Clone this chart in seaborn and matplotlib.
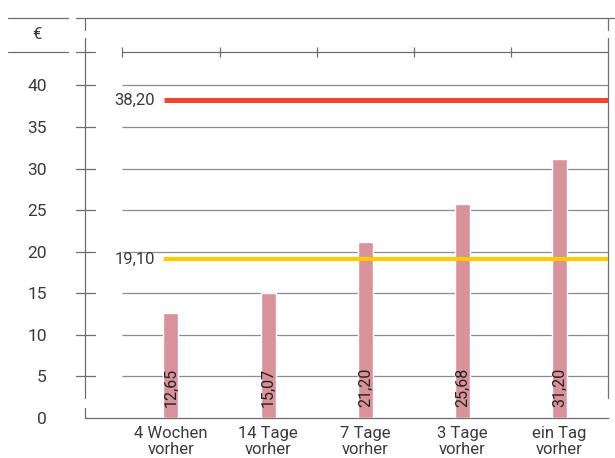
import matplotlib
matplotlib.use("Agg")
import matplotlib.pyplot as plt
import seaborn as sns
import numpy as np

# data
categories = ["4 Wochen\nvorher", "14 Tage\nvorher", "7 Tage\nvorher", "3 Tage\nvorher", "ein Tag\nvorher"]
prices = [12.65, 15.07, 21.20, 25.68, 31.20]
price_labels = ["12,65", "15,07", "21,20", "25,68", "31,20"]
ref_values = [38.20, 19.10]
ref_labels = ["38,20", "19,10"]
ref_colors = ["#f2462a", "#ffcc00"]
y_ticks = [0, 5, 10, 15, 20, 25, 30, 35, 40]

sns.set_style("white")
plt.rcParams["font.family"] = ["Roboto", "DejaVu Sans"]

TXT = "#3a3a3a"
GRID = "#8c8c8c"
AXC = "#6e6e6e"

fig = plt.figure(figsize=(6.15, 4.58), dpi=100)
ax = fig.add_axes([85 / 615, 40 / 458, 523 / 615, 400 / 458])

sns.barplot(x=categories, y=prices, color="#d9929a", width=0.155, saturation=1, ax=ax, zorder=3)

y_top = 44.0
y_head = 48.1
ax.set_ylim(0, y_head)
ax.set_xlim(-0.885, 4.494)


def px_x(px):
    # pixel column -> axes fraction
    return (px - 85) / 523


yt = ax.get_yaxis_transform()

# grid
ax.hlines(y_ticks[1:], -0.5, 4.5, color=GRID, lw=0.9, zorder=1)
ax.hlines(y_top, -0.5, 4.5, color=AXC, lw=0.9, zorder=1)
ax.vlines(np.arange(-0.5, 4.0, 1.0), y_top - 0.6, y_top + 0.6, color=AXC, lw=0.9)

# left / right verticals
for xf in (0, 1):
    ax.plot([xf, xf], [2.4, 45.7], transform=yt, color=AXC, lw=0.9, clip_on=False)
    ax.plot([xf, xf], [46.6, y_head], transform=yt, color=AXC, lw=0.9, clip_on=False)
ax.plot([0, 0], [0, 1.2], transform=yt, color=AXC, lw=0.9, clip_on=False)

# header lines
ax.plot([px_x(76), px_x(615)], [y_head, y_head], transform=yt, color=AXC, lw=0.9, clip_on=False)
for yy in (y_head, y_top):
    ax.plot([px_x(8), px_x(68)], [yy, yy], transform=yt, color=AXC, lw=0.9, clip_on=False)
for yy in y_ticks[1:] + [y_top]:
    ax.plot([px_x(76), px_x(95)], [yy, yy], transform=yt, color=AXC, lw=0.9, clip_on=False)
ax.text(px_x(37), 46.1, "€", transform=yt, ha="center", va="center", fontsize=12, color=TXT)

# reference lines
for v, lab, c in zip(ref_values, ref_labels, ref_colors):
    lw = 3.6 if v > 30 else 3.0
    ax.hlines(v, -0.072, 4.5, color=c, lw=lw, zorder=4)
    ax.text(-0.165, v, lab, ha="right", va="center", fontsize=12, color=TXT)

# value labels inside bars
for i, lab in enumerate(price_labels):
    ax.text(i, 1.3, lab, rotation=90, ha="center", va="bottom", fontsize=11.5, color="#222222", zorder=5)

# axes
for s in ax.spines.values():
    s.set_visible(False)
ax.spines["bottom"].set_visible(True)
ax.spines["bottom"].set_color(AXC)
ax.spines["bottom"].set_linewidth(0.9)
ax.set_yticks(y_ticks)
ax.set_yticklabels([str(t) for t in y_ticks], fontsize=12.5, color=TXT)
ax.tick_params(axis="y", length=0, pad=27.5)
ax.set_xticks(range(len(categories)))
ax.set_xticklabels(categories, fontsize=12, color=TXT, linespacing=1.15)
ax.tick_params(axis="x", which="major", length=0, pad=5.5)
ax.set_xticks(np.arange(-0.5, 5.0, 1.0), minor=True)
ax.tick_params(axis="x", which="minor", direction="in", length=7.2, width=0.9, color=AXC)
ax.set_xlabel("")
ax.set_ylabel("")

fig.savefig("out.png", dpi=100)
